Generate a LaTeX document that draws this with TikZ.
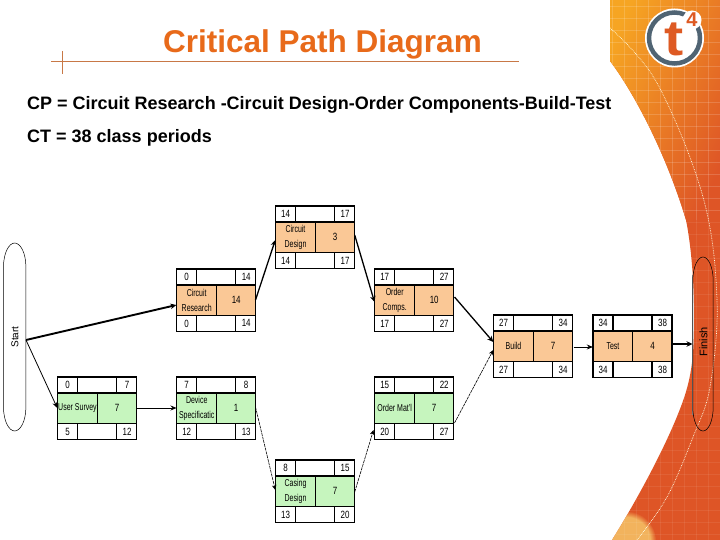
\documentclass[tikz,border=0pt]{standalone}
\usepackage{fontspec}
\setmainfont{Liberation Sans}
\usetikzlibrary{arrows.meta,fadings}
\definecolor{crit}{RGB}{250,200,150}
\definecolor{noncrit}{RGB}{198,245,190}
\definecolor{titleor}{RGB}{232,106,26}
\definecolor{ruleor}{RGB}{200,120,70}
\definecolor{logog}{RGB}{80,100,115}
\definecolor{logot}{RGB}{222,90,35}
\definecolor{banda}{RGB}{246,165,35}
\definecolor{bandb}{RGB}{222,85,32}
\definecolor{bandc}{RGB}{222,85,38}
\definecolor{bandy}{RGB}{245,190,100}
\tikzset{x=1pt,y=-1pt,
 lbl/.style={inner sep=0pt,align=center,xscale=.7,font=\fontsize{10}{15}\selectfont},
 numl/.style={inner sep=0pt,align=center,xscale=.76,font=\fontsize{10.5}{15}\selectfont},
 crita/.style={-{Stealth[length=6pt,width=5.5pt]},line width=1.3pt},
 startarrow/.style={-{Stealth[length=6pt,width=5.5pt]},line width=1.9pt},
 norma/.style={-{Stealth[length=6pt,width=5pt]},line width=.8pt},
 slacka/.style={-{Stealth[length=5pt,width=4.5pt]},line width=.6pt,dash pattern=on 3pt off .8pt},
 term/.style={inner sep=0pt},
 pill/.style={draw=black,line width=.5pt}}
\newcommand{\tasknode}[9]{%
 \path[draw=black,line width=1.5pt,fill=#4] (#2,#3) rectangle ++(79,62.5);
 \path[fill=white,draw=black,line width=1.5pt] (#2,#3) rectangle ++(79,15.8);
 \path[fill=white,draw=black,line width=1.5pt] (#2,#3+46.5) rectangle ++(79,16);
 \draw[line width=1.5pt] (#2+20,#3) -- ++(0,15.8) (#2+59,#3) -- ++(0,15.8) (#2+20,#3+46.5) -- ++(0,16) (#2+59,#3+46.5) -- ++(0,16);
 \draw[line width=.8pt] (#2+39.5,#3+15.8) -- ++(0,30.7);
 \node[numl] (#1es) at (#2+10,#3+8) {#5};
 \node[numl] (#1ef) at (#2+69.5,#3+8) {#6};
 \node[lbl] (#1t) at (#2+20,#3+31) {#7};
 \node[numl] (#1d) at (#2+59.5,#3+31) {#8};
 \node[numl] (#1ls) at (#2+10,#3+54.5) {#9};
}
% cx cy rx ry cap
\newcommand{\pillshape}[5]{%
 \draw[pill] (#1-#3,#2-#4+#5) .. controls (#1-#3,#2-#4+.4*#5) and (#1-.5*#3,#2-#4) .. (#1,#2-#4)
  .. controls (#1+.5*#3,#2-#4) and (#1+#3,#2-#4+.4*#5) .. (#1+#3,#2-#4+#5)
  -- (#1+#3,#2+#4-#5) .. controls (#1+#3,#2+#4-.4*#5) and (#1+.5*#3,#2+#4) .. (#1,#2+#4)
  .. controls (#1-.5*#3,#2+#4) and (#1-#3,#2+#4-.4*#5) .. (#1-#3,#2+#4-#5) -- cycle;
}
\begin{document}
\begin{tikzpicture}
\useasboundingbox (0,0) rectangle (720,540);
\fill[white] (0,0) rectangle (720,540);
% orange band
\begin{scope}
\clip (610,0) -- (610,61) .. controls (632,90) and (665,150) .. (686,220)
  .. controls (693,255) and (696,310) .. (693,353) .. controls (691,375) and (688,385) .. (685,395)
  .. controls (672,435) and (640,495) .. (612,540)
  -- (720,540) -- (720,0) -- cycle;
\fill[bandc] (600,0) rectangle (720,540);
\shade[left color=banda,middle color=bandb,right color=bandc,shading angle=65] (605,-2) rectangle (722,222);
\fill[bandy,opacity=.9,path fading=circle with fuzzy edge 20 percent] (626,541) circle (30);
\foreach \gx in {612,624,...,720} \draw[white,opacity=.16,line width=.5pt] (\gx,0) -- (\gx,220);
\foreach \gy in {6,18,...,220} \draw[white,opacity=.16,line width=.5pt] (600,\gy) -- (720,\gy);
\foreach \gx in {612,624,...,720} \draw[white,opacity=.07,line width=.5pt] (\gx,220) -- (\gx,540);
\foreach \gy in {222,234,...,540} \draw[white,opacity=.07,line width=.5pt] (600,\gy) -- (720,\gy);
\draw[white!90!yellow,densely dotted,line width=.7pt] plot[smooth,tension=.6] coordinates {(610,28) (657,83) (703,197) (717,300) (710,387) (693,437) (667,497) (637,540)};
\end{scope}
% logo
\fill[white] (674.5,38) circle (29.5);
\draw[logog,line width=4.5pt] (674.5,38) circle (25.5);
\fill[white] (692,20) circle (9.5);
\node[inner sep=0pt,xscale=1.15,text=logot,font=\fontsize{50}{50}\selectfont\bfseries] (logot) at (674,39) {t};
\node[inner sep=0pt,text=logot,font=\fontsize{20}{20}\selectfont\bfseries] (logo4) at (692,20) {4};
% title
\node[inner sep=0pt,text=titleor,font=\fontsize{31.5}{32}\selectfont\bfseries] (title) at (322.5,44) {Critical Path Diagram};
\draw[ruleor,line width=1pt] (51,62) -- (519,62);
\draw[ruleor,line width=1pt] (62,51) -- (62,74);
\node[inner sep=0pt,anchor=west,font=\fontsize{18}{18}\selectfont\bfseries] (cp) at (27,105) {CP = Circuit Research -Circuit Design-Order Components-Build-Test};
\node[inner sep=0pt,anchor=west,font=\fontsize{18}{18}\selectfont\bfseries] (ct) at (27,138) {CT = 38 class periods};
% tasks
\tasknode{cr}{176.7}{269}{crit}{0}{14}{Circuit\\Research}{14}{0}
\node[numl] (crlf) at (246.2,323) {14};
\tasknode{cd}{275.5}{206}{crit}{14}{17}{Circuit\\Design}{3}{14}
\node[numl] (cdlf) at (345,260.5) {17};
\tasknode{oc}{374.7}{269}{crit}{17}{27}{Order\\Comps.}{10}{17}
\node[numl] (oclf) at (444.2,323.5) {27};
\tasknode{bu}{493.5}{315}{crit}{27}{34}{Build}{7}{27}
\node[numl] (bulf) at (563,369.5) {34};
\tasknode{te}{593}{315}{crit}{34}{38}{Test}{4}{34}
\node[numl] (telf) at (662.5,369.5) {38};
\tasknode{us}{57.5}{377}{noncrit}{0}{7}{User Survey}{7}{5}
\node[numl] (uslf) at (127,431.5) {12};
\tasknode{ds}{176.7}{377}{noncrit}{7}{8}{Device\\Specificatic}{1}{12}
\node[numl] (dslf) at (246.2,431.5) {13};
\tasknode{om}{374.7}{377}{noncrit}{15}{22}{Order Mat'l}{7}{20}
\node[numl] (omlf) at (444.2,431.5) {27};
\tasknode{ca}{275.5}{460}{noncrit}{8}{15}{Casing\\Design}{7}{13}
\node[numl] (calf) at (345,514.5) {20};
% terminals
\pillshape{14.7}{337}{11.2}{94}{24}
\node[term,rotate=90,font=\fontsize{10}{10}\selectfont] (startl) at (15,337) {Start};
\draw[gray,line width=1.2pt] (692.7,275) -- (692.7,415);
\pillshape{703}{344}{10.2}{87}{24}
\node[term,rotate=90,font=\fontsize{11}{11}\selectfont] (finishl) at (703.5,342) {Finish};
% connectors
\coordinate (s1) at (26,340);
\coordinate (s2) at (176.4,305);
\coordinate (s3) at (57.3,408);
\draw[startarrow] (s1) -- (s2);
\draw[norma] (s1) -- (s3);
\draw[crita] (255.5,300) -- (275.3,240);
\draw[crita] (354.7,235) -- (374.5,302);
\draw[crita] (454.5,297) -- (493.3,342);
\draw[norma] (573.5,347) -- (592.8,347);
\draw[crita] (672.7,344) -- (692.5,344);
\draw[norma] (136.5,408) -- (176.5,408);
\draw[slacka] (255.5,407) -- (275.3,490);
\draw[slacka] (354.7,492) -- (373.5,430);
\draw[slacka] (454.5,423) -- (493.3,350);
\end{tikzpicture}
\end{document}
